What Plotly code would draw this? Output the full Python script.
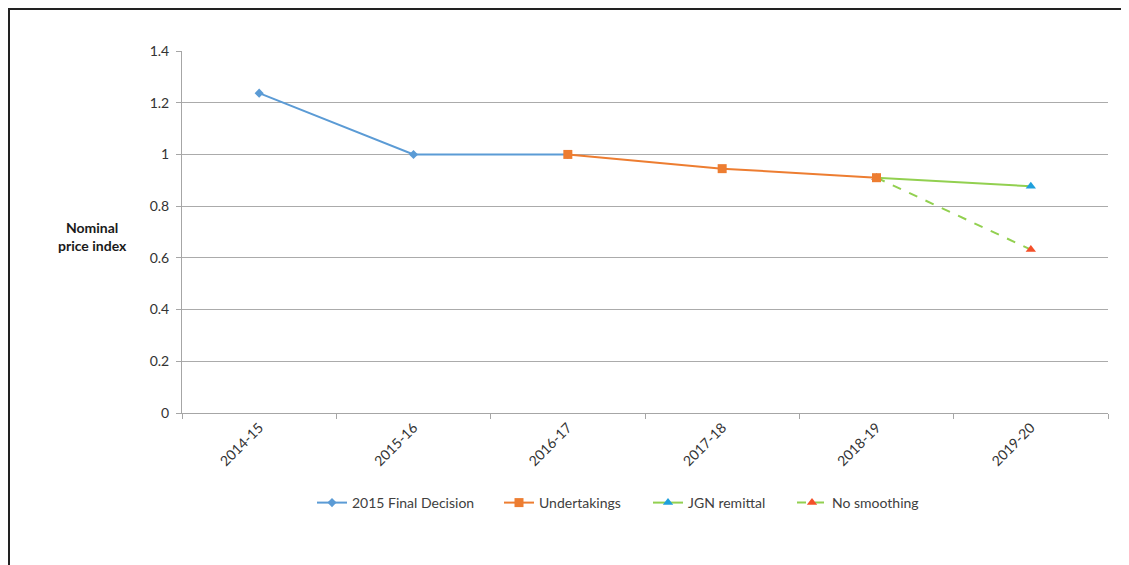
import plotly.graph_objects as go

categories = ["2014-15", "2015-16", "2016-17", "2017-18", "2018-19", "2019-20"]
final_decision_x = ["2014-15", "2015-16", "2016-17"]
final_decision_y = [1.237, 1.0, 1.0]
undertakings_x = ["2016-17", "2017-18", "2018-19"]
undertakings_y = [1.0, 0.945, 0.91]
jgn_x = ["2018-19", "2019-20"]
jgn_y = [0.91, 0.877]
nosmooth_x = ["2018-19", "2019-20"]
nosmooth_y = [0.91, 0.632]
y_ticks = [0, 0.2, 0.4, 0.6, 0.8, 1, 1.2, 1.4]
y_tick_labels = ["0", "0.2", "0.4", "0.6", "0.8", "1", "1.2", "1.4"]

FONT = "Lato"
OFF = 8  # page body margin
W, H = 1129 - OFF, 565 - OFF
L, R, T, B = 182, 1108, 51, 413  # screen pixel coords of plot area


def px(x):
    return (x - L) / (R - L)


def py(y):
    return (B - y) / (B - T)


fig = go.Figure()
fig.add_trace(go.Scatter(
    x=final_decision_x, y=final_decision_y, name="2015 Final Decision",
    mode="lines+markers", line=dict(color="#5B9BD5", width=2),
    marker=dict(symbol="diamond", size=7, color="#5B9BD5"),
    legend="legend",
))
fig.add_trace(go.Scatter(
    x=jgn_x, y=jgn_y, name="JGN remittal",
    mode="lines+markers", line=dict(color="#92D050", width=2),
    marker=dict(symbol="triangle-up", size=9, color="#1FA0DC"),
    legend="legend3",
))
fig.add_trace(go.Scatter(
    x=nosmooth_x, y=nosmooth_y, name="No smoothing",
    mode="lines+markers", line=dict(color="#92D050", width=2, dash="dash"),
    marker=dict(symbol="triangle-up", size=9, color="#F4502A"),
    legend="legend4",
))
fig.add_trace(go.Scatter(
    x=undertakings_x, y=undertakings_y, name="Undertakings",
    mode="lines+markers", line=dict(color="#ED7D31", width=2),
    marker=dict(symbol="square", size=9, color="#ED7D31"),
    legend="legend2",
))

leg_font = dict(family=FONT, size=14, color="#404040")


def leg(start):
    return dict(orientation="h", x=px(start), xanchor="left", y=py(503), yanchor="middle",
                font=leg_font, bgcolor="rgba(0,0,0,0)")


fig.update_layout(
    width=W, height=H,
    margin=dict(l=L - OFF, r=W + OFF - R, t=T - OFF, b=H + OFF - B),
    plot_bgcolor="white", paper_bgcolor="white",
    font=dict(family=FONT, size=14, color="#404040"),
    showlegend=True,
    legend=leg(312),
    legend2=leg(499),
    legend3=leg(648),
    legend4=leg(792),
    xaxis=dict(
        type="category", categoryorder="array", categoryarray=categories,
        range=[-0.5, 5.5], tickson="boundaries", ticks="outside", ticklen=5,
        tickcolor="#A6A6A6", showline=True, linecolor="#A6A6A6", linewidth=1,
        showgrid=False, tickangle=-45, tickfont=dict(family=FONT, size=14, color="#333333"),
        fixedrange=True,
    ),
    yaxis=dict(
        range=[0, 1.4], tickvals=y_ticks, ticktext=y_tick_labels,
        ticks="outside", ticklen=5, tickcolor="#A6A6A6", ticklabelstandoff=4,
        showline=True, linecolor="#A6A6A6", linewidth=1,
        showgrid=True, gridcolor="#ABABAB", gridwidth=1, zeroline=False,
        tickfont=dict(family=FONT, size=14, color="#333333"),
    ),
    annotations=[dict(
        text="<b>Nominal<br>price index</b>", x=px(92), y=py(236), xref="paper", yref="paper",
        showarrow=False, xanchor="center", yanchor="middle",
        font=dict(family=FONT, size=14, color="#1a1a1a"), align="center",
    )],
    shapes=[
        dict(type="line", xref="paper", yref="paper", x0=px(9), x1=px(9), y0=py(8), y1=py(570),
             line=dict(color="#222222", width=2)),
        dict(type="line", xref="paper", yref="paper", x0=px(8), x1=px(1135), y0=py(9), y1=py(9),
             line=dict(color="#222222", width=2)),
    ],
)

fig.write_html("out.html")
